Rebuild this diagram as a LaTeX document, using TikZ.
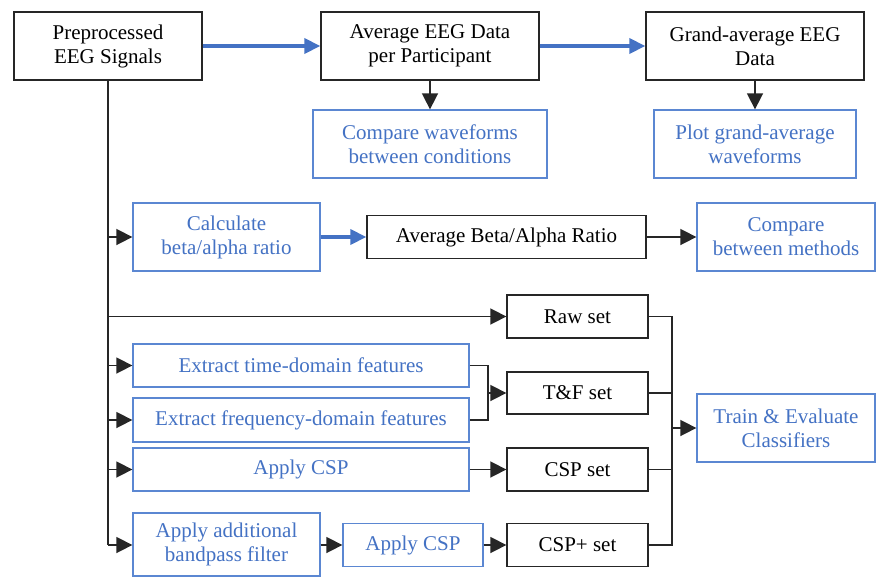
\documentclass[tikz,border=0pt]{standalone}
\usepackage{fontspec}
\newfontfamily\tms{Liberation Serif}
\usetikzlibrary{arrows.meta}
\definecolor{myblue}{HTML}{4472C4}
\definecolor{boxblue}{HTML}{5B87D2}
\definecolor{dk}{HTML}{262626}
\begin{document}
\begin{tikzpicture}[x=1pt,y=-1pt,
  every node/.style={font=\tms\fontsize{21}{24}\selectfont},
  blk/.style={draw=dk, line width=1.3pt, align=center, inner sep=0pt, text=black},
  blu/.style={draw=boxblue, line width=1.3pt, align=center, inner sep=0pt, text=myblue},
  sz/.style 2 args={minimum width=#1pt, minimum height=#2pt},
  ln/.style={line width=1.6pt, draw=dk},
  arr/.style={ln, -{Triangle[length=16pt,width=16pt]}},
  barr/.style={line width=3.5pt, draw=myblue, color=myblue, -{Triangle[length=16pt,width=15pt]}}
]
\path[fill=white, use as bounding box] (0,0) rectangle (876,576);

\node[blk, sz={188}{68}] (pre) at (108,46) {Preprocessed\\EEG Signals};
\node[blk, sz={218}{68}] (avg) at (430,46) {Average EEG Data\\per Participant};
\node[blk, sz={218}{68}] (grand) at (755,46) {Grand-average EEG\\Data};
\node[blu, sz={234}{68}] (cmpw) at (430,144) {Compare waveforms\\between conditions};
\node[blu, sz={202}{68}] (plot) at (755,144) {Plot grand-average\\waveforms};

\node[blu, sz={187}{68}] (calc) at (226.5,237) {Calculate\\beta/alpha ratio};
\node[blk, sz={279}{43}] (ratio) at (506.5,237) {Average Beta/Alpha Ratio};
\node[blu, sz={178}{68}] (cmpm) at (786,237) {Compare\\between methods};

\node[blk, sz={141}{43}] (raw) at (577.5,316.5) {Raw set};
\node[blu, sz={336}{43}] (time) at (301,365.5) {Extract time-domain features};
\node[blu, sz={336}{44}] (freq) at (301,420) {Extract frequency-domain features};
\node[blk, sz={141}{42}] (tf) at (577.5,393) {T\&F set};
\node[blu, sz={336}{43}] (csp) at (301,469.5) {Apply CSP};
\node[blk, sz={141}{43}] (cspset) at (577.5,469.5) {CSP set};
\node[blu, sz={187}{63}] (band) at (226.5,544.5) {Apply additional\\bandpass filter};
\node[blu, sz={140}{43}] (csp2) at (413,545) {Apply CSP};
\node[blk, sz={141}{43}] (cspplus) at (577.5,545) {CSP+ set};
\node[blu, sz={178}{68}] (train) at (786,428) {Train \& Evaluate\\Classifiers};

\coordinate (jx) at (488,0);
\coordinate (cx) at (672,0);

% top row
\draw[barr] (pre.east) -- (avg.west);
\draw[barr] (avg.east) -- (grand.west);
\draw[arr] (avg.south) -- (cmpw.north);
\draw[arr] (grand.south) -- (plot.north);

% trunk
\draw[ln] (pre.south) -- (pre.south |- csp2.west);
\draw[arr] (pre.south |- calc.west) -- (calc.west);
\draw[arr] (pre.south |- raw.west) -- (raw.west);
\draw[arr] (pre.south |- time.west) -- (time.west);
\draw[arr] (pre.south |- freq.west) -- (freq.west);
\draw[arr] (pre.south |- csp.west) -- (csp.west);
\draw[arr] (pre.south |- csp2.west) -- (band.west |- csp2.west);

% ratio row
\draw[barr] (calc.east) -- (ratio.west);
\draw[arr] (ratio.east) -- (cmpm.west);

% features
\draw[ln] (time.east) -| (jx |- tf.west);
\draw[ln] (freq.east) -| (jx |- tf.west);
\draw[arr] (jx |- tf.west) -- (tf.west);
\draw[arr] (csp.east) -- (cspset.west);
\draw[arr] (band.east |- csp2.west) -- (csp2.west);
\draw[arr] (csp2.east) -- (cspplus.west);

% collector
\draw[ln] (raw.east) -- (cx |- raw.east) -- (cx |- cspplus.east) -- (cspplus.east);
\draw[ln] (tf.east) -- (cx |- tf.east);
\draw[ln] (cspset.east) -- (cx |- cspset.east);
\draw[arr] (cx |- train.west) -- (train.west);
\end{tikzpicture}
\end{document}
